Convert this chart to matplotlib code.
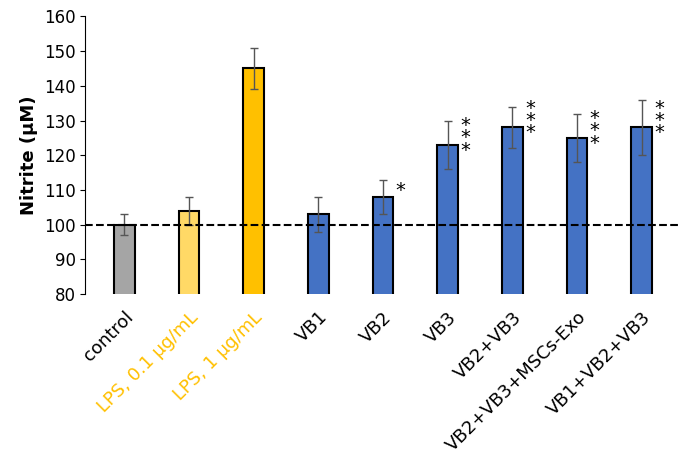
import matplotlib.pyplot as plt

categories = ["control", "LPS, 0.1 µg/mL", "LPS, 1 µg/mL", "VB1", "VB2", "VB3",
              "VB2+VB3", "VB2+VB3+MSCs-Exo", "VB1+VB2+VB3"]
values = [100, 104, 145, 103, 108, 123, 128, 125, 128]
errors = [3, 4, 6, 5, 5, 7, 6, 7, 8]
stars = ["", "", "", "", "*", "***", "***", "***", "***"]
colors = ["#A5A5A5", "#FFD966", "#FFC000"] + ["#4472C4"] * 6
label_colors = ["black", "#FFC000", "#FFC000"] + ["black"] * 6

fig = plt.figure(figsize=(7, 4.67), dpi=100)
ax = fig.add_axes([0.122, 0.37, 0.85, 0.595])
x = range(len(categories))
ax.bar(x, values, width=0.32, color=colors, edgecolor="black", linewidth=1.5, zorder=2)
ax.errorbar(x, values, yerr=errors, fmt="none", ecolor="#555555", capsize=3, elinewidth=1, zorder=3)
ax.axhline(100, color="black", linestyle="--", linewidth=1.5, zorder=4)

for i, s in enumerate(stars):
    if not s:
        continue
    ax.text(i + 0.2, values[i] + 2, "\n".join(s), ha="left", va="center",
            fontsize=14, linespacing=0.55)

ax.set_ylim(80, 160)
ax.set_yticks(range(80, 161, 10))
ax.set_xlim(-0.6, len(categories) - 0.4)
ax.set_xticks(list(x))
ax.set_xticklabels(categories, rotation=45, ha="right", rotation_mode="anchor", fontsize=13)
for t, c in zip(ax.get_xticklabels(), label_colors):
    t.set_color(c)
ax.tick_params(axis="y", labelsize=12)
ax.tick_params(axis="x", length=0, pad=10)
ax.set_ylabel("Nitrite (µM)", fontsize=13, fontweight="bold")
for side in ["top", "right"]:
    ax.spines[side].set_visible(False)
ax.spines["bottom"].set_visible(False)

fig.savefig("out.png", dpi=100)
